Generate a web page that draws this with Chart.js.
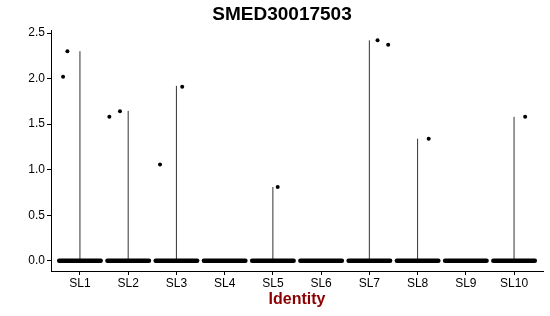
<!DOCTYPE html>
<html>
<head>
<meta charset="utf-8">
<script src="https://cdn.jsdelivr.net/npm/chart.js@4"></script>
<style>
  body { margin: 0; background: #fff; }
  #wrap { width: 550px; height: 316px; }
</style>
</head>
<body>
<div id="wrap"><canvas id="chart1"></canvas></div>
<script>
// categories and values
const categories = ["SL1", "SL2", "SL3", "SL4", "SL5", "SL6", "SL7", "SL8", "SL9", "SL10"];
const violinMax = [2.30, 1.645, 1.92, 0, 0.81, 0, 2.42, 1.34, 0, 1.58];
const pointCat = [1, 1, 2, 2, 3, 3, 5, 7, 7, 8, 10];
const pointJitter = [-0.35, -0.26, -0.39, -0.17, -0.34, 0.12, 0.10, 0.17, 0.39, 0.23, 0.23];
const pointValue = [2.02, 2.30, 1.58, 1.64, 1.056, 1.91, 0.81, 2.42, 2.37, 1.34, 1.58];
const yTicks = [0, 0.5, 1.0, 1.5, 2.0, 2.5];

const bandHalf = 0.43;

document.addEventListener("DOMContentLoaded", () => {
  const datasets = [];

  // zero cells, drawn as a dense band per group
  categories.forEach((c, i) => {
    datasets.push({
      type: "line",
      data: [{ x: i + 1 - bandHalf, y: 0 }, { x: i + 1 + bandHalf, y: 0 }],
      borderColor: "#000",
      borderWidth: 4.5,
      borderCapStyle: "round",
      pointRadius: 0,
    });
  });

  // violins collapse to a thin line from 0 to max
  violinMax.forEach((m, i) => {
    if (m > 0) {
      datasets.push({
        type: "line",
        data: [{ x: i + 1, y: 0 }, { x: i + 1, y: m }],
        borderColor: "#333",
        borderWidth: 1,
        pointRadius: 0,
      });
    }
  });

  datasets.push({
    type: "scatter",
    data: pointValue.map((v, k) => ({ x: pointCat[k] + pointJitter[k], y: v })),
    backgroundColor: "#000",
    borderWidth: 0,
    pointRadius: 2,
  });

  const titlePlugin = {
    id: "plotTitle",
    afterDraw(chart) {
      const c = chart.ctx;
      c.save();
      c.font = "bold 19px 'Liberation Sans', Arial, sans-serif";
      c.fillStyle = "#000";
      c.textAlign = "center";
      c.textBaseline = "middle";
      c.fillText("SMED30017503", 282, 15);
      c.restore();
    },
  };

  const ctx1 = document.getElementById("chart1").getContext("2d");
  const chart1 = new Chart(ctx1, {
    data: { datasets: datasets },
    plugins: [titlePlugin],
    options: {
      responsive: true,
      maintainAspectRatio: false,
      animation: false,
      layout: { padding: { top: 30, right: 7, left: 0, bottom: 0 } },
      plugins: { legend: { display: false }, tooltip: { enabled: false } },
      scales: {
        x: {
          type: "linear",
          min: 0.4,
          max: 10.6,
          afterBuildTicks: (s) => { s.ticks = categories.map((c, i) => ({ value: i + 1 })); },
          afterFit: (s) => { s.height = 45; s.paddingLeft = 0; s.paddingRight = 0; },
          ticks: {
            callback: (v) => categories[v - 1],
            color: "#000",
            font: { family: "'Liberation Sans', Arial", size: 12 },
            padding: 1,
            maxRotation: 0,
            autoSkip: false,
          },
          grid: { drawOnChartArea: false, drawTicks: true, tickLength: 4, color: "#000" },
          border: { color: "#000", width: 1 },
          title: {
            display: true,
            text: "Identity",
            color: "#8B0000",
            font: { family: "'Liberation Sans', Arial", size: 16, weight: "bold" },
            padding: { top: 0, bottom: 7 },
          },
        },
        y: {
          type: "linear",
          min: -0.112,
          max: 2.533,
          afterBuildTicks: (s) => { s.ticks = yTicks.map((v) => ({ value: v })); },
          afterFit: (s) => { s.width = 51; s.paddingTop = 0; s.paddingBottom = 0; },
          ticks: {
            callback: (v) => v.toFixed(1),
            color: "#000",
            font: { family: "'Liberation Sans', Arial", size: 12 },
            padding: 2,
          },
          grid: { drawOnChartArea: false, drawTicks: true, tickLength: 4, color: "#000" },
          border: { color: "#000", width: 1 },
        },
      },
    },
  });
});
</script>
</body>
</html>
